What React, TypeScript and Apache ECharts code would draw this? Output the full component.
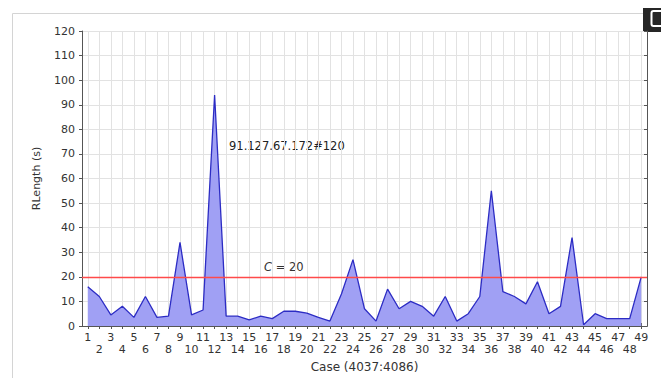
import React, { useEffect, useRef } from 'react';
import * as echarts from 'echarts';

const cases = ['1','2','3','4','5','6','7','8','9','10','11','12','13','14','15','16','17','18','19','20','21','22','23','24','25','26','27','28','29','30','31','32','33','34','35','36','37','38','39','40','41','42','43','44','45','46','47','48','49'];
const rLength = [16, 12, 4.5, 8, 3.5, 12, 3.5, 4, 34, 4.5, 6.5, 94, 4, 4, 2.5, 4, 3, 6, 6, 5.2, 3.5, 2, 13, 27, 7, 2, 15, 7, 10, 8, 4, 12, 2, 5, 12, 55, 14, 12, 9, 18, 5, 8, 36, 0.5, 5, 3, 3, 3, 20];
const yMin = 0;
const yMax = 120;
const yStep = 10;
const threshold = 20;
const thresholdLabel = ' = 20';
const thresholdSymbol = 'C';
const annotation = '91.127.67.172#120';
const xTitle = 'Case (4037:4086)';
const yTitle = 'RLength (s)';

const FONT = '"DejaVu Sans", Verdana, sans-serif';
const AXIS = '#555';
const GRID = '#e2e2e2';
const RED = '#ff4a4a';

export default function App() {
  const ref = useRef<HTMLDivElement>(null);
  useEffect(() => {
    const chart = echarts.init(ref.current!, null, { renderer: 'svg' });
    chart.setOption({
      animation: false,
      backgroundColor: '#fff',
      textStyle: { fontFamily: FONT },
      grid: { left: 82, top: 31, right: 14, bottom: 52 },
      xAxis: [
        {
          type: 'category',
          data: cases,
          boundaryGap: true,
          position: 'bottom',
          name: xTitle,
          nameLocation: 'middle',
          nameGap: 33,
          nameTextStyle: { fontSize: 12, color: '#333', fontFamily: FONT, verticalAlign: 'top' },
          axisLine: { show: true, lineStyle: { color: AXIS } },
          axisTick: { show: true, alignWithLabel: true, interval: 0, inside: true, length: 3, lineStyle: { color: AXIS } },
          axisLabel: {
            interval: 0,
            margin: 5,
            fontSize: 11,
            lineHeight: 12.5,
            color: '#333',
            fontFamily: FONT,
            formatter: (v: string, i: number) => (i % 2 === 0 ? v : '\n' + v),
          },
          splitLine: { show: true, interval: 0, alignWithLabel: true, lineStyle: { color: GRID } },
        },
        {
          type: 'category',
          data: cases,
          boundaryGap: true,
          position: 'top',
          axisLine: { show: true, lineStyle: { color: AXIS } },
          axisTick: { show: true, alignWithLabel: true, interval: 0, inside: true, length: 3, lineStyle: { color: AXIS } },
          axisLabel: { show: false },
          splitLine: { show: false },
        },
      ],
      yAxis: [
        {
          type: 'value',
          min: yMin,
          max: yMax,
          interval: yStep,
          position: 'left',
          axisLine: { show: true, lineStyle: { color: AXIS } },
          axisTick: { show: true, length: 3, lineStyle: { color: AXIS } },
          axisLabel: { margin: 7, fontSize: 11, color: '#333', fontFamily: FONT },
          splitLine: { show: true, lineStyle: { color: GRID } },
          name: yTitle,
          nameLocation: 'middle',
          nameGap: 40,
          nameTextStyle: { fontSize: 11, color: '#333', fontFamily: FONT },
        },
        {
          type: 'value',
          min: yMin,
          max: yMax,
          interval: yStep,
          position: 'right',
          axisLine: { show: true, lineStyle: { color: AXIS } },
          axisTick: { show: true, inside: true, length: 3, lineStyle: { color: AXIS } },
          axisLabel: { show: false },
          splitLine: { show: false },
        },
      ],
      series: [
        {
          type: 'line',
          data: rLength,
          symbol: 'none',
          lineStyle: { color: '#2c2cc4', width: 1.3 },
          itemStyle: { color: '#2c2cc4' },
          areaStyle: { color: '#a0a0f4', opacity: 1 },
          z: 2,
          markLine: {
            silent: true,
            symbol: ['none', 'none'],
            label: { show: false },
            lineStyle: { color: RED, type: 'solid', width: 1.3 },
            data: [{ yAxis: threshold }],
          },
        },
      ],
      graphic: [
        {
          type: 'rect',
          shape: { x: 12.5, y: 13.5, width: 700, height: 400 },
          style: { fill: 'none', stroke: '#d4d4d4', lineWidth: 1 },
          silent: true,
        },
        {
          type: 'rect',
          shape: { x: 643, y: 8, width: 30, height: 24 },
          style: { fill: '#262626' },
          silent: true,
        },
        {
          type: 'rect',
          shape: { x: 651.5, y: 11, width: 20, height: 15, r: 2 },
          style: { fill: 'none', stroke: '#fff', lineWidth: 2 },
          silent: true,
        },
        {
          type: 'text',
          left: 229,
          top: 140,
          style: { text: annotation, fontSize: 11.5, fill: '#222', fontFamily: FONT },
          silent: true,
        },
        {
          type: 'text',
          left: 264,
          top: 261,
          style: {
            text: '{i|' + thresholdSymbol + '}' + thresholdLabel,
            fontSize: 11.5,
            fill: '#333',
            fontFamily: FONT,
            rich: { i: { fontStyle: 'italic', fontSize: 11.5, fill: '#333', fontFamily: FONT } },
          },
          silent: true,
        },
      ],
    });
    return () => chart.dispose();
  }, []);
  return (
    <div
      ref={ref}
      style={{ position: 'fixed', left: 0, top: 0, width: 661, height: 378, background: '#fff' }}
    />
  );
}
